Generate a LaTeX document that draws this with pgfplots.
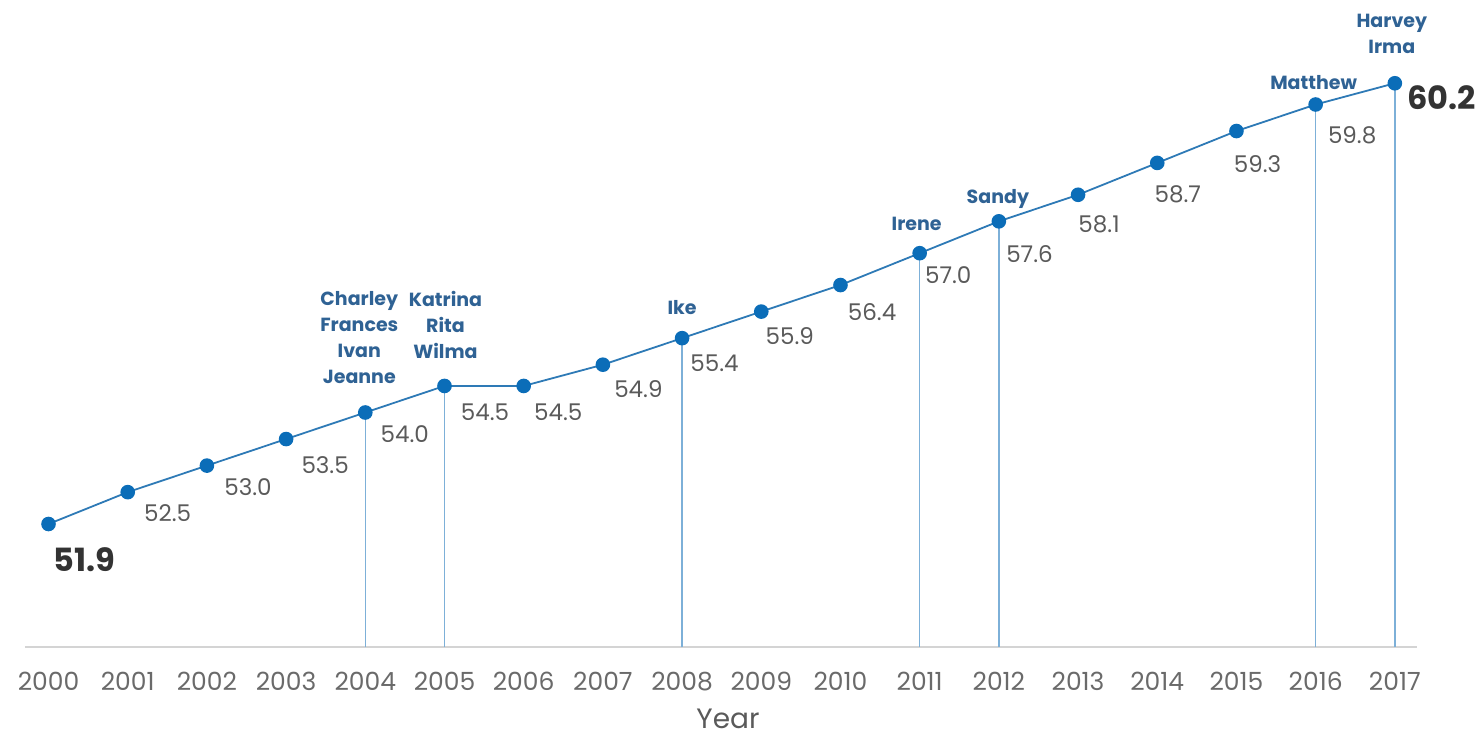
\documentclass[border=0pt]{standalone}
\usepackage{pgfplots}
\pgfplotsset{compat=1.18}
\usepackage{pgfplotstable}
\usepackage{fontspec}
\setmainfont{Poppins}
\definecolor{linecol}{HTML}{2E7AB6}
\definecolor{markcol}{HTML}{0B6DB8}
\definecolor{vcol}{HTML}{7DB0D8}
\definecolor{namecol}{HTML}{2F6294}
\definecolor{valcol}{HTML}{5A5A5A}
\definecolor{bigcol}{HTML}{333333}
\definecolor{tickcol}{HTML}{6A6A6A}
\definecolor{axcol}{HTML}{D4D4D4}

\pgfplotstableread{
year value
2000 51.9
2001 52.5
2002 53.0
2003 53.5
2004 54.0
2005 54.5
2006 54.5
2007 54.9
2008 55.4
2009 55.9
2010 56.4
2011 57.0
2012 57.6
2013 58.1
2014 58.7
2015 59.3
2016 59.8
2017 60.2
}\datatable

\def\ymn{49.584}

\tikzset{
  val/.style={anchor=north west, inner sep=0pt, text=valcol, font=\fontsize{11.5}{13}\selectfont},
  big/.style={inner sep=0pt, text=bigcol, font=\fontsize{16}{18}\selectfont\bfseries},
  nm/.style={inner sep=0pt, text=namecol, align=center, font=\fontsize{9.5}{13}\selectfont\bfseries},
  vl/.style={draw=vcol, line width=0.7pt, mark=none}
}

\begin{document}
\begin{tikzpicture}
\useasboundingbox (-12.5pt,-45.5pt) rectangle (728pt,323.5pt);
\begin{axis}[
  at={(0pt,0pt)}, anchor=south west,
  scale only axis, width=696pt, height=323.5pt,
  xmin=1999.703, xmax=2017.28, ymin=49.584, ymax=61.768,
  axis x line=bottom, axis y line=none,
  x axis line style={-, draw=axcol, line width=0.8pt},
  xtick={2000,2001,2002,2003,2004,2005,2006,2007,2008,2009,2010,2011,2012,2013,2014,2015,2016,2017},
  xticklabels={2000,2001,2002,2003,2004,2005,2006,2007,2008,2009,2010,2011,2012,2013,2014,2015,2016,2017},
  major tick length=0pt, ytick=\empty,
  xticklabel style={anchor=north, inner sep=0pt, yshift=-12.5pt, text=tickcol, font=\fontsize{12.5}{14}\selectfont},
  clip=false,
]
% drop lines
\addplot[vl] coordinates {(2004,\ymn) (2004,54.0)};
\addplot[vl] coordinates {(2005,\ymn) (2005,54.5)};
\addplot[vl] coordinates {(2008,\ymn) (2008,55.4)};
\addplot[vl] coordinates {(2011,\ymn) (2011,57.0)};
\addplot[vl] coordinates {(2012,\ymn) (2012,57.6)};
\addplot[vl] coordinates {(2016,\ymn) (2016,59.8)};
\addplot[vl] coordinates {(2017,\ymn) (2017,60.2)};
% main series
\addplot[draw=linecol, line width=0.9pt, mark=*, mark size=3.2pt,
  mark options={fill=markcol, draw=markcol}] table[x=year, y=value] {\datatable};

% value labels
\node[val, xshift=8pt,   yshift=-6pt]  at (axis cs:2001,52.5) {52.5};
\node[val, xshift=8.5pt, yshift=-6.5pt] at (axis cs:2002,53.0) {53.0};
\node[val, xshift=7.5pt, yshift=-8.5pt] at (axis cs:2003,53.5) {53.5};
\node[val, xshift=7.5pt, yshift=-6.5pt] at (axis cs:2004,54.0) {54.0};
\node[val, xshift=8pt,   yshift=-9pt]  at (axis cs:2005,54.5) {54.5};
\node[val, xshift=5pt,   yshift=-9pt]  at (axis cs:2006,54.5) {54.5};
\node[val, xshift=5.5pt, yshift=-7.5pt] at (axis cs:2007,54.9) {54.9};
\node[val, xshift=4pt,   yshift=-8pt]  at (axis cs:2008,55.4) {55.4};
\node[val, xshift=2pt,   yshift=-8pt]  at (axis cs:2009,55.9) {55.9};
\node[val, xshift=3.5pt, yshift=-9pt] at (axis cs:2010,56.4) {56.4};
\node[val, xshift=2.5pt, yshift=-6.5pt]  at (axis cs:2011,57.0) {57.0};
\node[val, xshift=3.5pt, yshift=-12pt] at (axis cs:2012,57.6) {57.6};
\node[val, xshift=0pt,   yshift=-10pt] at (axis cs:2013,58.1) {58.1};
\node[val, xshift=-1.5pt,yshift=-11pt] at (axis cs:2014,58.7) {58.7};
\node[val, xshift=-1.5pt,yshift=-11.8pt]  at (axis cs:2015,59.3) {59.3};
\node[val, xshift=6pt,   yshift=-10.7pt] at (axis cs:2016,59.8) {59.8};
\node[big, anchor=north west, xshift=2.5pt, yshift=-11.5pt] at (axis cs:2000,51.9) {51.9};
\node[big, anchor=north west, xshift=6pt, yshift=-1pt] at (axis cs:2017,60.2) {60.2};

% hurricane names
\node[nm, anchor=south, xshift=-3pt, yshift=14pt] at (axis cs:2004,54.0) {Charley\\Frances\\Ivan\\Jeanne};
\node[nm, anchor=south, xshift=0.5pt, yshift=13.5pt] at (axis cs:2005,54.5) {Katrina\\Rita\\Wilma};
\node[nm, anchor=base, yshift=12pt] at (axis cs:2008,55.4) {Ike};
\node[nm, anchor=base, xshift=-1.5pt, yshift=11.5pt] at (axis cs:2011,57.0) {Irene};
\node[nm, anchor=base, xshift=-0.5pt, yshift=9pt] at (axis cs:2012,57.6) {Sandy};
\node[nm, anchor=base, xshift=-1pt, yshift=7.6pt] at (axis cs:2016,59.8) {Matthew};
\node[nm, anchor=south, xshift=-1.5pt, yshift=14.5pt] at (axis cs:2017,60.2) {Harvey\\Irma};

% axis title
\node[anchor=base, inner sep=0pt, text=valcol, font=\fontsize{14}{16}\selectfont] at (axis cs:2008.58,\ymn) [yshift=-40.5pt] {Year};
\end{axis}
\end{tikzpicture}
\end{document}
